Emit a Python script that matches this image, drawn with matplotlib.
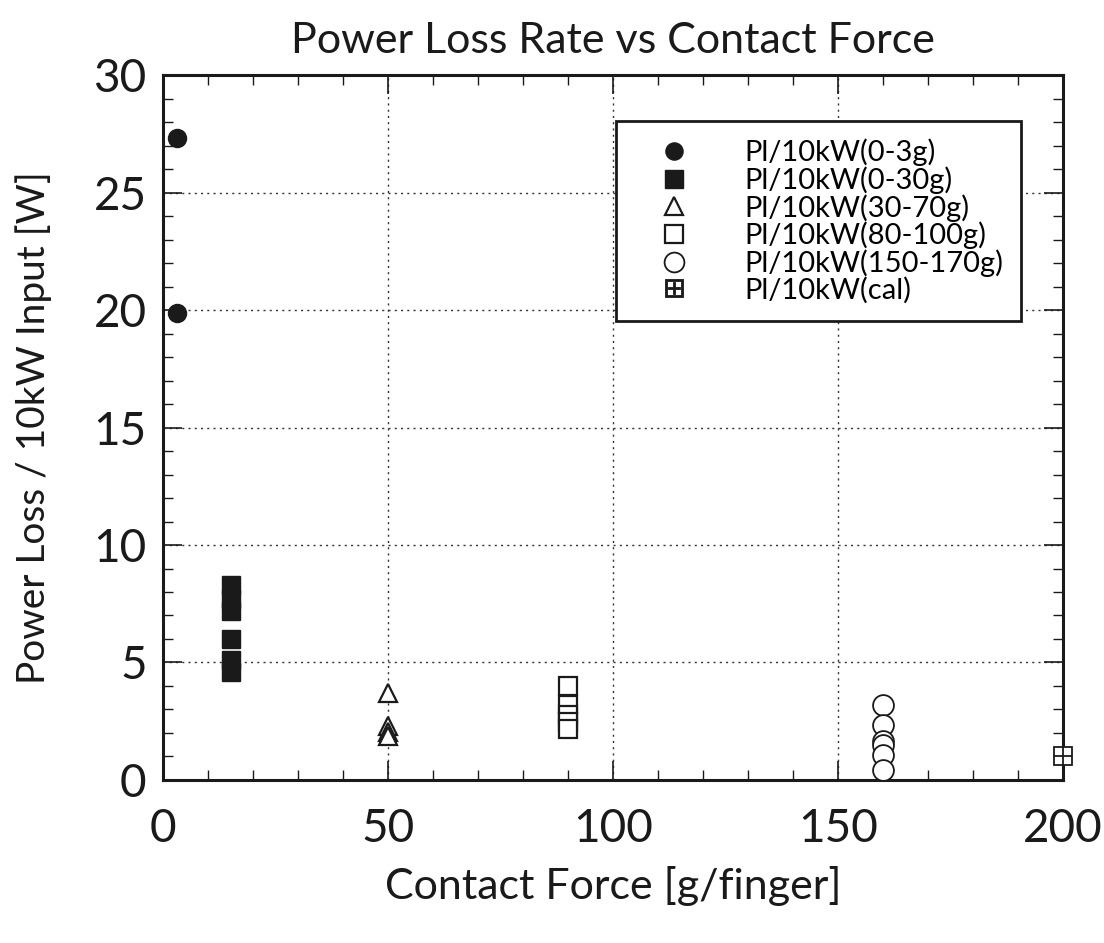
import matplotlib.pyplot as plt
from matplotlib.ticker import MultipleLocator

plt.rcParams['font.family'] = ['Lato', 'DejaVu Sans']

# contact force [g/finger] and power loss [W] per 10 kW input, one group per test range
force_0_3 = [3, 3]
loss_0_3 = [27.35, 19.9]

force_0_30 = [15, 15, 15, 15, 15, 15]
loss_0_30 = [8.3, 7.7, 7.2, 6.0, 5.1, 4.6]

force_30_70 = [50, 50, 50, 50]
loss_30_70 = [3.7, 2.3, 2.05, 1.85]

force_80_100 = [90, 90, 90, 90, 90]
loss_80_100 = [4.0, 3.2, 2.75, 2.45, 2.15]

force_150_170 = [160, 160, 160, 160, 160, 160]
loss_150_170 = [3.2, 2.35, 1.65, 1.5, 1.05, 0.4]

force_cal = [200]
loss_cal = [1.0]

labels = ['Pl/10kW(0-3g)', 'Pl/10kW(0-30g)', 'Pl/10kW(30-70g)',
          'Pl/10kW(80-100g)', 'Pl/10kW(150-170g)', 'Pl/10kW(cal)']

fig = plt.figure(figsize=(11.04, 9.43), dpi=100)
ax = fig.add_axes([0.148, 0.173, 0.815, 0.747])

ms = 13
ax.plot(force_0_3, loss_0_3, 'o', color='#1a1a1a', ms=ms, label=labels[0], clip_on=False, zorder=3)
ax.plot(force_0_30, loss_0_30, 's', color='#1a1a1a', ms=ms, label=labels[1], clip_on=False, zorder=3)
ax.plot(force_30_70, loss_30_70, '^', mfc='white', mec='#1a1a1a', mew=1.6, ms=ms, label=labels[2], zorder=3)
ax.plot(force_80_100, loss_80_100, 's', mfc='white', mec='#1a1a1a', mew=1.6, ms=ms, label=labels[3], zorder=3)
ax.plot(force_150_170, loss_150_170, 'o', mfc='white', mec='#1a1a1a', mew=1.3, ms=ms + 2, label=labels[4], zorder=3)
ax.plot(force_cal, loss_cal, 's', mfc='white', mec='#1a1a1a', mew=1.3, ms=ms, label=labels[5], clip_on=False, zorder=3)
# cross inside the calibration marker
ax.plot(force_cal, loss_cal, '+', color='#1a1a1a', mew=1.3, ms=ms, clip_on=False, zorder=4)

ax.set_xlim(0, 200)
ax.set_ylim(0, 30)
ax.xaxis.set_major_locator(MultipleLocator(50))
ax.xaxis.set_minor_locator(MultipleLocator(10))
ax.yaxis.set_major_locator(MultipleLocator(5))
ax.yaxis.set_minor_locator(MultipleLocator(1))
ax.tick_params(which='both', direction='in', top=True, right=True, colors='#1a1a1a')
ax.tick_params(which='major', length=14, width=1.2, labelsize=33)
ax.tick_params(axis='x', which='major', pad=20)
ax.tick_params(axis='y', which='major', pad=12)
ax.tick_params(which='minor', length=7, width=1.0)
ax.grid(True, which='major', linestyle=(0, (1.5, 3)), color='#333333', linewidth=1.0)
for sp in ax.spines.values():
    sp.set_linewidth(2.2)
    sp.set_color('#1a1a1a')

ax.set_title('Power Loss Rate vs Contact Force', fontsize=31, pad=16, color='#1a1a1a')
ax.set_xlabel('Contact Force [g/finger]', fontsize=31, labelpad=12, color='#1a1a1a')
ax.set_ylabel('Power Loss / 10kW Input [W]', fontsize=28, labelpad=30, color='#1a1a1a')

leg = ax.legend(loc='upper right', bbox_to_anchor=(0.953, 0.935), fontsize=21,
                frameon=True, fancybox=False, borderpad=0.6, handletextpad=1.0,
                handlelength=2.8, labelspacing=0.0, markerscale=0.95, borderaxespad=0)
leg.get_frame().set_edgecolor('#1a1a1a')
leg.get_frame().set_linewidth(2.0)
leg.get_frame().set_alpha(1)

# draw the cross inside the calibration marker in the legend too
h = leg.legend_handles[5]
h.set_marker('$\\boxplus$')
h.set_markeredgewidth(0.6)
h.set_markerfacecolor('#1a1a1a')

fig.savefig('out.png', dpi=100, facecolor='white')
